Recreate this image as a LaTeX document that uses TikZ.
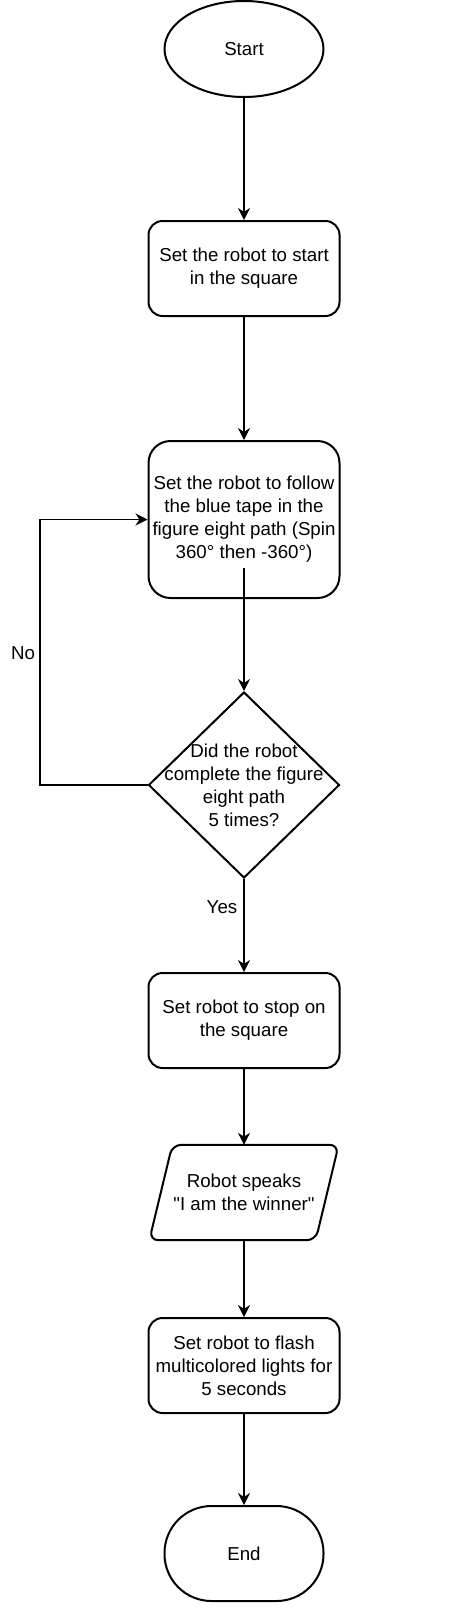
\documentclass[tikz,border=0pt]{standalone}
\usepackage{fontspec}
\setmainfont{Liberation Sans}
\usetikzlibrary{shapes.geometric,arrows.meta}

\begin{document}
\begin{tikzpicture}[x=1pt,y=-1pt,font=\fontsize{18.7}{23}\selectfont]
            \tikzstyle{terminal}=[draw,ellipse,line width=2pt,inner sep=0pt,minimum width=159pt,minimum height=96pt]
            \tikzstyle{stadium}=[draw,rounded corners=47pt,line width=2pt,inner sep=0pt,minimum width=159pt,minimum height=95pt]
            \tikzstyle{process}=[draw,rounded corners=14pt,line width=2pt,inner sep=0pt,minimum width=191pt,minimum height=95pt,align=center]
            \tikzstyle{decision}=[draw,diamond,line width=2pt,inner sep=0pt,minimum width=191pt,minimum height=186pt]
            \tikzstyle{io}=[inner sep=0pt,minimum width=189pt,minimum height=95pt,align=center]
            \tikzstyle{ioframe}=[rounded corners=9pt,line width=2pt]
            \tikzstyle{flow}=[line width=1.3pt,-{Stealth[length=12pt,width=12pt]}]

            \useasboundingbox (0,0) rectangle (466,1622);

            \node (start) at (244,49) [terminal] {Start};
            \node (setup) at (244,268.5) [process] {Set the robot to start\\in the square};
            \node (loop) at (244,519.5) [process,rounded corners=22pt,minimum height=157pt] {Set the robot to follow\\the blue tape in the\\figure eight path (Spin\\360° then -360°)};
            \node (check) at (244,785) [decision] {};
            \node (checktext) at (check) [align=center] {Did the robot\\complete the figure\\eight path\\5 times?};
            \node (stop) at (244,1020.5) [process] {Set robot to stop on\\the square};
            \node (speak) at (244,1192.5) [io] {Robot speaks\\\textquotedbl I am the winner\textquotedbl};
            \node (flash) at (244,1365.5) [process] {Set robot to flash\\multicolored lights for\\5 seconds};
            \node (finish) at (244,1553.5) [stadium] {End};
            \coordinate (back) at (40,785);
            \node (no) at (23,653) {No};
            \node (yes) at (222,907) {Yes};

            \draw[ioframe] ([xshift=23pt]speak.north west) -- (speak.north east)
              -- ([xshift=-23pt]speak.south east) -- (speak.south west) -- cycle;

            \draw[flow] (start) to (setup);
            \draw[flow] (setup) to (loop);
            \draw[flow] ([yshift=31pt]loop.south) to (check);
            \draw[flow] (check.west) -- (back) |- (loop.west);
            \draw[flow] (check) to (stop);
            \draw[flow] (stop) to (speak);
            \draw[flow] (speak) to (flash);
            \draw[flow] (flash) to (finish);
          \end{tikzpicture}
\end{document}
